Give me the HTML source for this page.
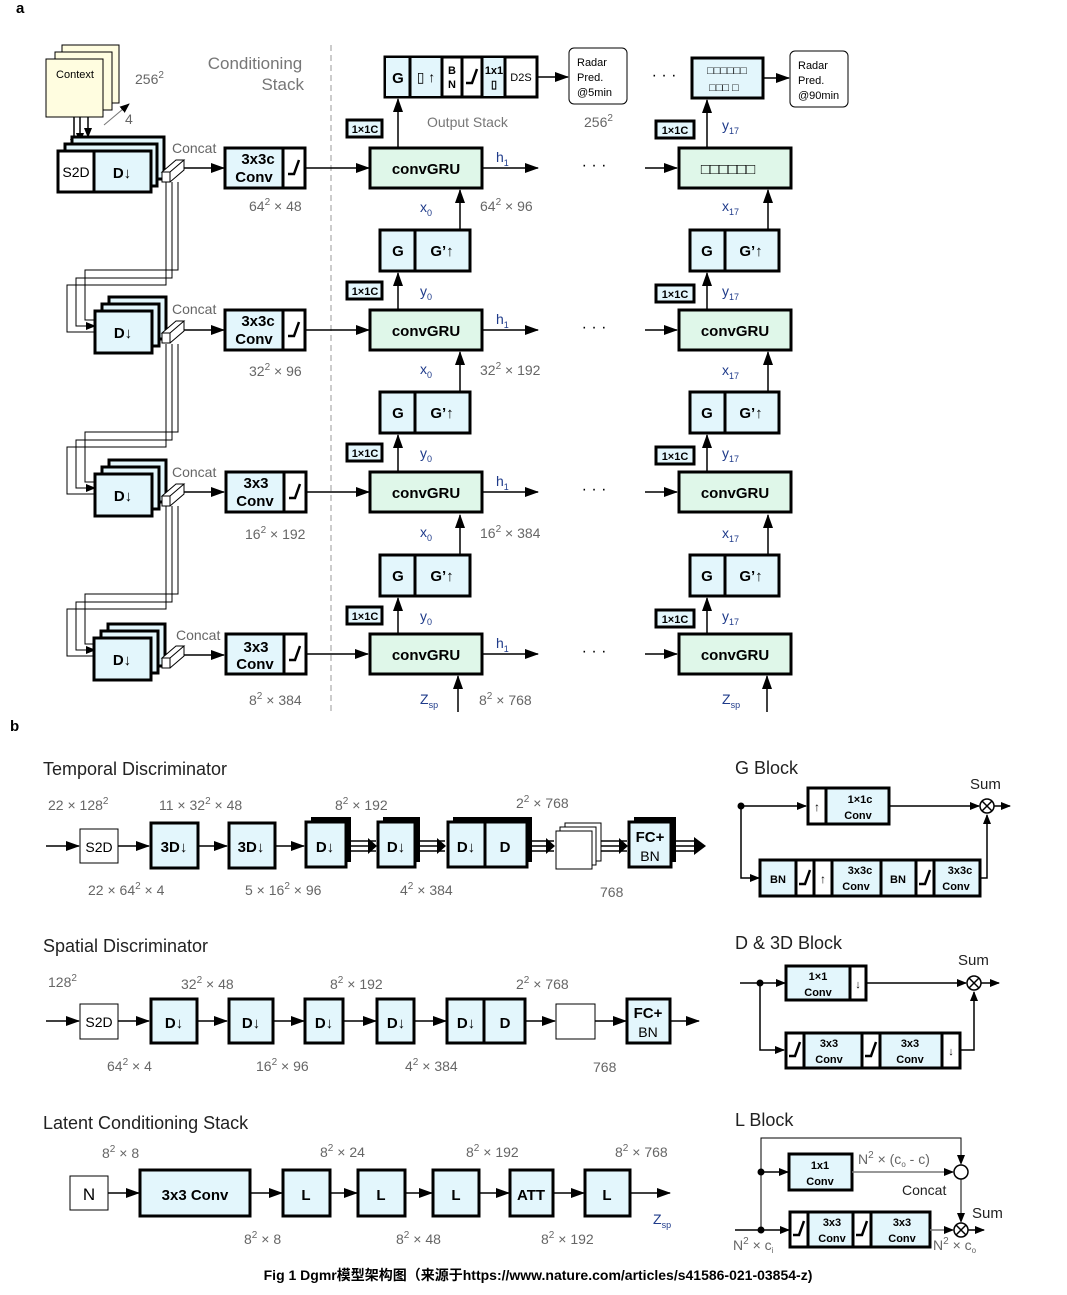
<!DOCTYPE html>
<html><head><meta charset="utf-8"><style>
body{margin:0;background:#fff}
svg{display:block;font-family:"Liberation Sans","Noto Sans CJK SC",sans-serif}
.b{fill:#e3f6fc;stroke:#000;stroke-width:3}
.w{fill:#fff;stroke:#000;stroke-width:3}
.g{fill:#dff7e9;stroke:#000;stroke-width:3}
.t{font-weight:bold;font-size:15px;text-anchor:middle}
.s{font-weight:bold;font-size:11px;text-anchor:middle}
.gr{fill:#666;font-size:14px}
.bl{fill:#1f3b8a;font-size:14px}
.ln{stroke:#000;stroke-width:1.5;fill:none}
.th{stroke:#000;stroke-width:1;fill:none}
.r{stroke:#000;stroke-width:2.5;fill:none}
.h{font-size:18px;fill:#222}
</style></head><body>
<svg width="1067" height="1295" viewBox="0 0 1067 1295">
<defs>
<marker id="a" markerWidth="10" markerHeight="8" refX="9" refY="4" orient="auto" markerUnits="userSpaceOnUse"><path d="M0,0L10,4L0,8z"/></marker>
<marker id="as" markerWidth="14" markerHeight="10" refX="13" refY="5" orient="auto" markerUnits="userSpaceOnUse"><path d="M0,0L14,5L0,10z"/></marker>
<g id="relu"><polyline points="-6,6 0,6 5,-8" class="r"/></g>
<g id="dstack"><rect x="14" y="-14" width="57" height="42" class="b"/><rect x="7" y="-7" width="57" height="42" class="b"/><rect x="0" y="0" width="57" height="42" class="b"/><text x="28" y="27" class="t" font-size="17">D↓</text></g>
<g id="bar"><path d="M0,8 L14,-4 L22,-4 L8,8z M0,8 v10 h8 v-10 M8,18 L22,6 V-4" fill="#fff" stroke="#000" stroke-width="1"/></g>
</defs>

<text x="16" y="13" font-weight="bold" font-size="15">a</text>
<text x="10" y="731" font-weight="bold" font-size="15">b</text>

<!-- context -->
<rect x="62" y="45" width="57" height="58" fill="#fffde0" stroke="#000"/>
<rect x="55" y="52" width="57" height="58" fill="#fffde0" stroke="#000"/>
<rect x="46" y="59" width="57" height="58" fill="#fffde0" stroke="#000"/>
<text x="75" y="78" font-size="11" text-anchor="middle">Context</text>
<text x="135" y="84" class="gr">256<tspan font-size="10" dy="-6">2</tspan></text>
<line x1="104" y1="125" x2="129" y2="104" stroke="#777" stroke-width="1" marker-end="url(#a)"/>
<text x="125" y="124" class="gr">4</text>
<line x1="74" y1="117" x2="74" y2="148" class="ln" marker-end="url(#a)"/>
<line x1="80" y1="117" x2="80" y2="142" class="ln" marker-end="url(#a)"/>
<line x1="88" y1="117" x2="88" y2="137" class="ln" marker-end="url(#a)"/>
<text x="255" y="69" fill="#777" font-size="17" text-anchor="middle">Conditioning</text>
<text x="304" y="90" fill="#777" font-size="17" text-anchor="end">Stack</text>
<line x1="331" y1="45" x2="331" y2="712" stroke="#999" stroke-width="1" stroke-dasharray="6,4"/>

<!-- row1 left -->
<rect x="72" y="137" width="92" height="42" class="b"/>
<rect x="65" y="144" width="92" height="42" class="b"/>
<rect x="58" y="151" width="36" height="41" class="w"/>
<rect x="94" y="151" width="57" height="41" class="b"/>
<text x="76" y="177" font-size="14" text-anchor="middle">S2D</text>
<text x="122" y="178" class="t" font-size="17">D↓</text>
<use href="#bar" x="162" y="164"/>
<text x="172" y="153" class="gr">Concat</text>
<!-- wires to row2 -->
<polyline points="166,182 166,285 67,285 67,332 95,332" class="th"/>
<polyline points="172,182 172,278 76,278 76,326 95,326" class="th" marker-end="url(#a)"/>
<polyline points="178,182 178,270 85,270 85,320 95,320" class="th"/>
<polyline points="166,344 166,447 67,447 67,494 95,494" class="th"/>
<polyline points="172,344 172,440 76,440 76,488 95,488" class="th" marker-end="url(#a)"/>
<polyline points="178,344 178,432 85,432 85,482 95,482" class="th"/>
<polyline points="166,506 166,609 67,609 67,656 95,656" class="th"/>
<polyline points="172,506 172,602 76,602 76,650 95,650" class="th" marker-end="url(#a)"/>
<polyline points="178,506 178,594 85,594 85,644 95,644" class="th"/>

<use href="#dstack" x="95" y="311"/><use href="#bar" x="162" y="325"/><text x="172" y="314" class="gr">Concat</text>
<use href="#dstack" x="95" y="474"/><use href="#bar" x="162" y="488"/><text x="172" y="477" class="gr">Concat</text>
<use href="#dstack" x="94" y="638"/><use href="#bar" x="162" y="650"/><text x="176" y="640" class="gr">Concat</text>

<!-- concat to conv arrows -->
<line x1="184" y1="168" x2="224" y2="168" class="ln" marker-end="url(#as)"/>
<line x1="184" y1="330" x2="224" y2="330" class="ln" marker-end="url(#as)"/>
<line x1="184" y1="492" x2="224" y2="492" class="ln" marker-end="url(#as)"/>
<line x1="184" y1="655" x2="224" y2="655" class="ln" marker-end="url(#as)"/>

<!-- conv boxes -->
<g><rect x="225" y="148" width="58" height="40" class="b"/><rect x="283" y="148" width="22" height="40" class="w"/><text x="258" y="164" class="t" font-size="13">3x3c</text><text x="254" y="182" class="t" font-size="13">Conv</text><use href="#relu" x="294" y="168"/><text x="249" y="211" class="gr">64<tspan font-size="10" dy="-6">2</tspan><tspan dy="6"> × 48</tspan></text></g>
<g><rect x="225" y="310" width="58" height="40" class="b"/><rect x="283" y="310" width="22" height="40" class="w"/><text x="258" y="326" class="t" font-size="13">3x3c</text><text x="254" y="344" class="t" font-size="13">Conv</text><use href="#relu" x="294" y="330"/><text x="249" y="376" class="gr">32<tspan font-size="10" dy="-6">2</tspan><tspan dy="6"> × 96</tspan></text></g>
<g><rect x="226" y="472" width="58" height="40" class="b"/><rect x="284" y="472" width="22" height="40" class="w"/><text x="256" y="488" class="t" font-size="13">3x3</text><text x="255" y="506" class="t" font-size="13">Conv</text><use href="#relu" x="295" y="492"/><text x="245" y="539" class="gr">16<tspan font-size="10" dy="-6">2</tspan><tspan dy="6"> × 192</tspan></text></g>
<g><rect x="226" y="634" width="58" height="40" class="b"/><rect x="284" y="634" width="22" height="40" class="w"/><text x="256" y="652" class="t" font-size="13">3x3</text><text x="255" y="669" class="t" font-size="13">Conv</text><use href="#relu" x="295" y="654"/><text x="249" y="705" class="gr">8<tspan font-size="10" dy="-6">2</tspan><tspan dy="6"> × 384</tspan></text></g>

<!-- conv to GRU -->
<line x1="305" y1="168" x2="369" y2="168" class="ln" marker-end="url(#as)"/>
<line x1="305" y1="330" x2="369" y2="330" class="ln" marker-end="url(#as)"/>
<line x1="306" y1="492" x2="369" y2="492" class="ln" marker-end="url(#as)"/>
<line x1="306" y1="654" x2="368" y2="654" class="ln" marker-end="url(#as)"/>

<!-- GRU rows -->
<g id="grurow">
<rect x="370" y="148" width="112" height="40" class="g"/><text x="426" y="174" class="t" font-size="16">convGRU</text>
<line x1="482" y1="168" x2="538" y2="168" class="ln" marker-end="url(#as)"/><text x="496" y="162" class="bl">h<tspan font-size="9" dy="4">1</tspan></text>
<text x="594" y="170" font-size="16" text-anchor="middle">· · ·</text>
<line x1="645" y1="168" x2="677" y2="168" class="ln" marker-end="url(#as)"/>
</g>
<rect x="679" y="148" width="112" height="40" class="g"/><text x="728" y="174" class="t" font-size="14">□□□□□□</text>
<use href="#grurow" y="162"/><rect x="679" y="310" width="112" height="40" class="g"/><text x="735" y="336" class="t" font-size="16">convGRU</text>
<use href="#grurow" y="324"/><rect x="679" y="472" width="112" height="40" class="g"/><text x="735" y="498" class="t" font-size="16">convGRU</text>
<use href="#grurow" y="486"/><rect x="679" y="634" width="112" height="40" class="g"/><text x="735" y="660" class="t" font-size="16">convGRU</text>

<!-- G blocks between -->
<g id="gb">
<rect x="380" y="230" width="35" height="41" class="b"/><rect x="415" y="230" width="55" height="41" class="b"/>
<text x="398" y="256" class="t" font-size="16">G</text><text x="442" y="256" class="t" font-size="16">G’↑</text>
<line x1="460" y1="230" x2="460" y2="190" class="ln" marker-end="url(#as)"/>
<line x1="398" y1="310" x2="398" y2="273" class="ln" marker-end="url(#as)"/>
<rect x="347" y="282" width="35" height="17" class="b"/><text x="365" y="295" class="s" font-size="10">1×1C</text>
<rect x="690" y="230" width="35" height="41" class="b"/><rect x="725" y="230" width="54" height="41" class="b"/>
<text x="707" y="256" class="t" font-size="16">G</text><text x="751" y="256" class="t" font-size="16">G’↑</text>
<line x1="768" y1="230" x2="768" y2="190" class="ln" marker-end="url(#as)"/>
<line x1="707" y1="310" x2="707" y2="273" class="ln" marker-end="url(#as)"/>
<rect x="656" y="285" width="38" height="17" class="b"/><text x="675" y="298" class="s" font-size="10">1×1C</text>
</g>
<use href="#gb" y="162"/><use href="#gb" y="325"/>
<text x="420" y="212" class="bl">x<tspan font-size="9" dy="4">0</tspan></text><text x="480" y="211" class="gr">64<tspan font-size="10" dy="-6">2</tspan><tspan dy="6"> × 96</tspan></text>
<text x="420" y="296" class="bl">y<tspan font-size="9" dy="4">0</tspan></text>
<text x="722" y="211" class="bl">x<tspan font-size="9" dy="4">17</tspan></text><text x="722" y="296" class="bl">y<tspan font-size="9" dy="4">17</tspan></text>
<text x="420" y="374" class="bl">x<tspan font-size="9" dy="4">0</tspan></text><text x="480" y="375" class="gr">32<tspan font-size="10" dy="-6">2</tspan><tspan dy="6"> × 192</tspan></text>
<text x="420" y="458" class="bl">y<tspan font-size="9" dy="4">0</tspan></text>
<text x="722" y="375" class="bl">x<tspan font-size="9" dy="4">17</tspan></text><text x="722" y="458" class="bl">y<tspan font-size="9" dy="4">17</tspan></text>
<text x="420" y="537" class="bl">x<tspan font-size="9" dy="4">0</tspan></text><text x="480" y="538" class="gr">16<tspan font-size="10" dy="-6">2</tspan><tspan dy="6"> × 384</tspan></text>
<text x="420" y="621" class="bl">y<tspan font-size="9" dy="4">0</tspan></text>
<text x="722" y="538" class="bl">x<tspan font-size="9" dy="4">17</tspan></text><text x="722" y="621" class="bl">y<tspan font-size="9" dy="4">17</tspan></text>
<!-- bottom inputs -->
<line x1="458" y1="712" x2="458" y2="676" class="ln" marker-end="url(#as)"/>
<line x1="767" y1="712" x2="767" y2="676" class="ln" marker-end="url(#as)"/>
<text x="420" y="704" class="bl">Z<tspan font-size="9" dy="4">sp</tspan></text><text x="722" y="704" class="bl">Z<tspan font-size="9" dy="4">sp</tspan></text>
<text x="479" y="705" class="gr">8<tspan font-size="10" dy="-6">2</tspan><tspan dy="6"> × 768</tspan></text>

<!-- top output stack -->
<line x1="398" y1="148" x2="398" y2="99" class="ln" marker-end="url(#as)"/>
<rect x="347" y="120" width="35" height="17" class="b"/><text x="365" y="133" class="s" font-size="10">1×1C</text>
<rect x="385" y="57" width="152" height="40" class="w"/>
<rect x="386" y="58" width="24" height="38" fill="#e3f6fc"/><rect x="411" y="58" width="31" height="38" fill="#e3f6fc"/><rect x="482" y="58" width="23" height="38" fill="#e3f6fc"/>
<path d="M410,57v40M442,57v40M462,57v40M482,57v40M505,57v40" stroke="#000" stroke-width="3"/>
<text x="398" y="83" class="t" font-size="16">G</text><text x="426" y="82" font-size="14" text-anchor="middle">▯ ↑</text>
<text x="452" y="74" class="s" font-size="9">B</text><text x="452" y="88" class="s" font-size="9">N</text>
<use href="#relu" x="472" y="77"/>
<text x="494" y="74" class="s" font-size="10">1x1</text><text x="494" y="88" class="s" font-size="9">▯</text>
<text x="521" y="81" font-size="11" text-anchor="middle">D2S</text>
<line x1="537" y1="77" x2="568" y2="77" class="ln" marker-end="url(#as)"/>
<rect x="569" y="48" width="58" height="56" rx="5" fill="#fff" stroke="#000"/>
<text x="577" y="66" font-size="11">Radar</text><text x="577" y="81" font-size="11">Pred.</text><text x="577" y="96" font-size="11">@5min</text>
<text x="427" y="127" fill="#777" font-size="14">Output Stack</text>
<text x="584" y="127" class="gr">256<tspan font-size="10" dy="-6">2</tspan></text>
<text x="664" y="80" font-size="16" text-anchor="middle">· · ·</text>
<rect x="692" y="58" width="71" height="40" class="b"/><text x="727" y="74" class="s" font-size="11">□□□□□□</text><text x="724" y="91" class="s" font-size="11">□□□ □</text>
<line x1="763" y1="78" x2="789" y2="78" class="ln" marker-end="url(#as)"/>
<rect x="790" y="51" width="58" height="56" rx="5" fill="#fff" stroke="#000"/>
<text x="798" y="69" font-size="11">Radar</text><text x="798" y="84" font-size="11">Pred.</text><text x="798" y="99" font-size="11">@90min</text>
<line x1="707" y1="148" x2="707" y2="100" class="ln" marker-end="url(#as)"/>
<rect x="656" y="121" width="38" height="17" class="b"/><text x="675" y="134" class="s" font-size="10">1×1C</text>
<text x="722" y="130" class="bl">y<tspan font-size="9" dy="4">17</tspan></text>

<!-- ===== b: Temporal ===== -->
<text x="43" y="775" class="h">Temporal Discriminator</text>
<text x="48" y="810" class="gr">22 × 128<tspan font-size="10" dy="-6">2</tspan></text>
<text x="159" y="810" class="gr">11 × 32<tspan font-size="10" dy="-6">2</tspan><tspan dy="6"> × 48</tspan></text>
<text x="335" y="810" class="gr">8<tspan font-size="10" dy="-6">2</tspan><tspan dy="6"> × 192</tspan></text>
<text x="516" y="808" class="gr">2<tspan font-size="10" dy="-6">2</tspan><tspan dy="6"> × 768</tspan></text>
<text x="88" y="895" class="gr">22 × 64<tspan font-size="10" dy="-6">2</tspan><tspan dy="6"> × 4</tspan></text>
<text x="245" y="895" class="gr">5 × 16<tspan font-size="10" dy="-6">2</tspan><tspan dy="6"> × 96</tspan></text>
<text x="400" y="895" class="gr">4<tspan font-size="10" dy="-6">2</tspan><tspan dy="6"> × 384</tspan></text>
<text x="600" y="897" class="gr">768</text>
<line x1="46" y1="846" x2="79" y2="846" class="ln" marker-end="url(#as)"/>
<rect x="80" y="829" width="38" height="34" fill="#fff" stroke="#000"/><text x="99" y="852" font-size="14" text-anchor="middle">S2D</text>
<line x1="118" y1="846" x2="149" y2="846" class="ln" marker-end="url(#as)"/>
<rect x="151" y="823" width="47" height="45" class="b"/><text x="174" y="852" class="t" font-size="17">3D↓</text>
<line x1="198" y1="846" x2="227" y2="846" class="ln" marker-end="url(#as)"/>
<rect x="229" y="823" width="46" height="45" class="b"/><text x="251" y="852" class="t" font-size="17">3D↓</text>
<line x1="275" y1="846" x2="304" y2="846" class="ln" marker-end="url(#as)"/>
<rect x="311" y="817" width="40" height="45" fill="#000"/><rect x="306" y="822" width="40" height="45" class="b"/><text x="325" y="852" class="t" font-size="17">D↓</text>
<path d="M351,841h25M351,846h25M351,851h25" class="ln"/><path d="M368,838l9,8l-9,8z"/>
<rect x="383" y="817" width="37" height="45" fill="#000"/><rect x="378" y="822" width="37" height="45" class="b"/><text x="396" y="852" class="t" font-size="17">D↓</text>
<path d="M420,841h25M420,846h25M420,851h25" class="ln"/><path d="M437,838l9,8l-9,8z"/>
<rect x="453" y="817" width="79" height="45" fill="#000"/><rect x="448" y="822" width="79" height="45" class="b"/><line x1="485" y1="822" x2="485" y2="867" stroke="#000" stroke-width="3"/>
<text x="466" y="852" class="t" font-size="17">D↓</text><text x="505" y="852" class="t" font-size="17">D</text>
<path d="M532,841h22M532,846h22M532,851h22" class="ln"/><path d="M546,838l9,8l-9,8z"/>
<rect x="565" y="823" width="36" height="38" fill="#fff" stroke="#000"/><rect x="560" y="827" width="36" height="38" fill="#fff" stroke="#000"/><rect x="556" y="831" width="36" height="38" fill="#fff" stroke="#000"/>
<path d="M601,841h26M601,846h26M601,851h26" class="ln"/><path d="M619,838l9,8l-9,8z"/>
<rect x="634" y="817" width="42" height="45" fill="#000"/><rect x="629" y="822" width="42" height="45" class="b"/>
<text x="650" y="842" class="t" font-size="14">FC+</text><text x="650" y="861" font-size="14" text-anchor="middle">BN</text>
<path d="M676,841h22M676,846h22M676,851h22" class="ln"/><path d="M694,837l12,9l-12,9z"/>

<!-- Spatial -->
<text x="43" y="952" class="h">Spatial Discriminator</text>
<text x="48" y="987" class="gr">128<tspan font-size="10" dy="-6">2</tspan></text>
<text x="181" y="989" class="gr">32<tspan font-size="10" dy="-6">2</tspan><tspan dy="6"> × 48</tspan></text>
<text x="330" y="989" class="gr">8<tspan font-size="10" dy="-6">2</tspan><tspan dy="6"> × 192</tspan></text>
<text x="516" y="989" class="gr">2<tspan font-size="10" dy="-6">2</tspan><tspan dy="6"> × 768</tspan></text>
<text x="107" y="1071" class="gr">64<tspan font-size="10" dy="-6">2</tspan><tspan dy="6"> × 4</tspan></text>
<text x="256" y="1071" class="gr">16<tspan font-size="10" dy="-6">2</tspan><tspan dy="6"> × 96</tspan></text>
<text x="405" y="1071" class="gr">4<tspan font-size="10" dy="-6">2</tspan><tspan dy="6"> × 384</tspan></text>
<text x="593" y="1072" class="gr">768</text>
<line x1="46" y1="1021" x2="79" y2="1021" class="ln" marker-end="url(#as)"/>
<rect x="80" y="1004" width="38" height="35" fill="#fff" stroke="#000"/><text x="99" y="1027" font-size="14" text-anchor="middle">S2D</text>
<line x1="118" y1="1021" x2="149" y2="1021" class="ln" marker-end="url(#as)"/>
<rect x="151" y="999" width="46" height="44" class="b"/><text x="174" y="1028" class="t" font-size="17">D↓</text>
<line x1="197" y1="1021" x2="227" y2="1021" class="ln" marker-end="url(#as)"/>
<rect x="229" y="999" width="44" height="44" class="b"/><text x="251" y="1028" class="t" font-size="17">D↓</text>
<line x1="273" y1="1021" x2="304" y2="1021" class="ln" marker-end="url(#as)"/>
<rect x="305" y="999" width="38" height="44" class="b"/><text x="324" y="1028" class="t" font-size="17">D↓</text>
<line x1="343" y1="1021" x2="376" y2="1021" class="ln" marker-end="url(#as)"/>
<rect x="377" y="999" width="37" height="44" class="b"/><text x="396" y="1028" class="t" font-size="17">D↓</text>
<line x1="414" y1="1021" x2="446" y2="1021" class="ln" marker-end="url(#as)"/>
<rect x="447" y="999" width="78" height="44" class="b"/><line x1="484" y1="999" x2="484" y2="1043" stroke="#000" stroke-width="3"/>
<text x="466" y="1028" class="t" font-size="17">D↓</text><text x="505" y="1028" class="t" font-size="17">D</text>
<line x1="525" y1="1021" x2="555" y2="1021" class="ln" marker-end="url(#as)"/>
<rect x="556" y="1004" width="39" height="35" fill="#fff" stroke="#000"/>
<line x1="595" y1="1021" x2="626" y2="1021" class="ln" marker-end="url(#as)"/>
<rect x="627" y="999" width="43" height="44" class="b"/>
<text x="648" y="1018" class="t" font-size="14">FC+</text><text x="648" y="1037" font-size="14" text-anchor="middle">BN</text>
<line x1="670" y1="1021" x2="699" y2="1021" class="ln" marker-end="url(#as)"/>

<!-- Latent -->
<text x="43" y="1129" class="h">Latent Conditioning Stack</text>
<text x="102" y="1158" class="gr">8<tspan font-size="10" dy="-6">2</tspan><tspan dy="6"> × 8</tspan></text>
<text x="320" y="1157" class="gr">8<tspan font-size="10" dy="-6">2</tspan><tspan dy="6"> × 24</tspan></text>
<text x="466" y="1157" class="gr">8<tspan font-size="10" dy="-6">2</tspan><tspan dy="6"> × 192</tspan></text>
<text x="615" y="1157" class="gr">8<tspan font-size="10" dy="-6">2</tspan><tspan dy="6"> × 768</tspan></text>
<text x="244" y="1244" class="gr">8<tspan font-size="10" dy="-6">2</tspan><tspan dy="6"> × 8</tspan></text>
<text x="396" y="1244" class="gr">8<tspan font-size="10" dy="-6">2</tspan><tspan dy="6"> × 48</tspan></text>
<text x="541" y="1244" class="gr">8<tspan font-size="10" dy="-6">2</tspan><tspan dy="6"> × 192</tspan></text>
<rect x="70" y="1176" width="38" height="34" fill="#fff" stroke="#000"/><text x="89" y="1200" font-size="17" text-anchor="middle">N</text>
<line x1="108" y1="1193" x2="139" y2="1193" class="ln" marker-end="url(#as)"/>
<rect x="140" y="1170" width="110" height="46" class="b"/><text x="195" y="1200" class="t" font-size="18">3x3 Conv</text>
<line x1="250" y1="1193" x2="282" y2="1193" class="ln" marker-end="url(#as)"/>
<rect x="283" y="1170" width="47" height="46" class="b"/><text x="306" y="1200" class="t" font-size="17">L</text>
<line x1="330" y1="1193" x2="357" y2="1193" class="ln" marker-end="url(#as)"/>
<rect x="358" y="1170" width="47" height="46" class="b"/><text x="381" y="1200" class="t" font-size="17">L</text>
<line x1="405" y1="1193" x2="432" y2="1193" class="ln" marker-end="url(#as)"/>
<rect x="433" y="1170" width="46" height="46" class="b"/><text x="456" y="1200" class="t" font-size="17">L</text>
<line x1="479" y1="1193" x2="509" y2="1193" class="ln" marker-end="url(#as)"/>
<rect x="510" y="1170" width="43" height="46" class="b"/><text x="531" y="1200" class="t" font-size="17">ATT</text>
<line x1="553" y1="1193" x2="584" y2="1193" class="ln" marker-end="url(#as)"/>
<rect x="585" y="1170" width="45" height="46" class="b"/><text x="607" y="1200" class="t" font-size="17">L</text>
<line x1="630" y1="1193" x2="670" y2="1193" class="ln" marker-end="url(#as)"/>
<text x="653" y="1224" class="bl" font-size="15">Z<tspan font-size="9" dy="4">sp</tspan></text>

<!-- G Block -->
<text x="735" y="774" class="h">G Block</text>
<text x="970" y="789" font-size="15" fill="#222">Sum</text>
<circle cx="741" cy="806" r="3.5"/>
<line x1="741" y1="806" x2="806" y2="806" class="ln" marker-end="url(#a)"/>
<polyline points="741,806 741,878 759,878" class="ln" marker-end="url(#a)"/>
<rect x="808" y="788" width="81" height="36" class="b"/><rect x="808" y="788" width="18" height="36" class="w"/>
<text x="817" y="811" font-size="12" text-anchor="middle">↑</text><text x="860" y="803" class="s">1×1c</text><text x="858" y="819" class="s">Conv</text>
<line x1="889" y1="806" x2="979" y2="806" class="ln" marker-end="url(#a)"/>
<circle cx="987" cy="806" r="7" fill="#fff" stroke="#000" stroke-width="1.5"/><path d="M982,801l10,10M992,801l-10,10" stroke="#000" stroke-width="1.5"/>
<line x1="994" y1="806" x2="1010" y2="806" class="ln" marker-end="url(#a)"/>
<polyline points="980,878 987,878 987,815" class="ln" marker-end="url(#a)"/>
<rect x="760" y="860" width="220" height="36" class="b"/>
<rect x="796" y="860" width="18" height="36" class="w"/><rect x="814" y="860" width="18" height="36" class="w"/><rect x="916" y="860" width="18" height="36" class="w"/>
<path d="M832,860v36M881,860v36M916,860v36" stroke="#000" stroke-width="3"/>
<text x="778" y="883" class="s" font-size="12">BN</text><use href="#relu" x="805" y="878" transform="scale(1)"/><text x="823" y="883" font-size="12" text-anchor="middle">↑</text>
<text x="860" y="874" class="s">3x3c</text><text x="856" y="890" class="s">Conv</text>
<text x="898" y="883" class="s" font-size="12">BN</text><use href="#relu" x="925" y="878"/>
<text x="960" y="874" class="s">3x3c</text><text x="956" y="890" class="s">Conv</text>

<!-- D Block -->
<text x="735" y="949" class="h">D &amp; 3D Block</text>
<text x="958" y="965" font-size="15" fill="#222">Sum</text>
<line x1="740" y1="983" x2="785" y2="983" class="ln" marker-end="url(#a)"/>
<circle cx="760" cy="983" r="3.5"/>
<polyline points="760,983 760,1050 784,1050" class="ln" marker-end="url(#a)"/>
<rect x="786" y="966" width="80" height="34" class="b"/><rect x="850" y="966" width="16" height="34" class="w"/>
<text x="818" y="980" class="s">1×1</text><text x="818" y="996" class="s">Conv</text><text x="858" y="988" font-size="11" text-anchor="middle">↓</text>
<line x1="866" y1="983" x2="966" y2="983" class="ln" marker-end="url(#a)"/>
<circle cx="974" cy="983" r="7" fill="#fff" stroke="#000" stroke-width="1.5"/><path d="M969,978l10,10M979,978l-10,10" stroke="#000" stroke-width="1.5"/>
<line x1="981" y1="983" x2="999" y2="983" class="ln" marker-end="url(#a)"/>
<polyline points="960,1050 974,1050 974,992" class="ln" marker-end="url(#a)"/>
<rect x="786" y="1033" width="174" height="35" class="b"/>
<rect x="786" y="1033" width="18" height="35" class="w"/><rect x="862" y="1033" width="18" height="35" class="w"/><rect x="942" y="1033" width="18" height="35" class="w"/>
<use href="#relu" x="795" y="1050"/><use href="#relu" x="871" y="1050"/><text x="951" y="1055" font-size="11" text-anchor="middle">↓</text>
<text x="829" y="1047" class="s">3x3</text><text x="829" y="1063" class="s">Conv</text>
<text x="910" y="1047" class="s">3x3</text><text x="910" y="1063" class="s">Conv</text>

<!-- L Block -->
<text x="735" y="1126" class="h">L Block</text>
<polyline points="761,1230 761,1138 961,1138 961,1164" class="th" marker-end="url(#a)"/>
<circle cx="761" cy="1172" r="3.5"/><circle cx="761" cy="1230" r="3.5"/>
<line x1="761" y1="1172" x2="788" y2="1172" class="ln" marker-end="url(#a)"/>
<rect x="789" y="1154" width="63" height="36" class="b"/><text x="820" y="1169" class="s">1x1</text><text x="820" y="1185" class="s">Conv</text>
<line x1="852" y1="1172" x2="953" y2="1172" stroke="#777" stroke-width="1.5" marker-end="url(#a)"/>
<circle cx="961" cy="1172" r="7" fill="#fff" stroke="#000" stroke-width="1.5"/>
<text x="858" y="1164" class="gr">N<tspan font-size="10" dy="-6">2</tspan><tspan dy="6"> × (c</tspan><tspan font-size="8" dy="3">o</tspan><tspan dy="-3"> - c)</tspan></text>
<text x="902" y="1195" font-size="14" fill="#222">Concat</text>
<line x1="961" y1="1179" x2="961" y2="1222" class="th" marker-end="url(#a)"/>
<text x="972" y="1218" font-size="15" fill="#222">Sum</text>
<line x1="735" y1="1230" x2="789" y2="1230" class="ln" marker-end="url(#a)"/>
<rect x="790" y="1212" width="140" height="35" class="b"/>
<rect x="790" y="1212" width="18" height="35" class="w"/><rect x="853" y="1212" width="18" height="35" class="w"/>
<use href="#relu" x="799" y="1229"/><use href="#relu" x="862" y="1229"/>
<text x="832" y="1226" class="s">3x3</text><text x="832" y="1242" class="s">Conv</text>
<text x="902" y="1226" class="s">3x3</text><text x="902" y="1242" class="s">Conv</text>
<line x1="930" y1="1230" x2="953" y2="1230" stroke="#777" stroke-width="1.5" marker-end="url(#a)"/>
<circle cx="961" cy="1230" r="7" fill="#fff" stroke="#000" stroke-width="1.5"/><path d="M956,1225l10,10M966,1225l-10,10" stroke="#000" stroke-width="1.5"/>
<line x1="968" y1="1230" x2="984" y2="1230" class="ln" marker-end="url(#a)"/>
<text x="733" y="1250" class="gr">N<tspan font-size="10" dy="-6">2</tspan><tspan dy="6"> × c</tspan><tspan font-size="8" dy="3">i</tspan></text>
<text x="933" y="1250" class="gr">N<tspan font-size="10" dy="-6">2</tspan><tspan dy="6"> × c</tspan><tspan font-size="8" dy="3">o</tspan></text>

<text x="538" y="1280" font-size="14" font-weight="bold" text-anchor="middle">Fig 1 Dgmr模型架构图（来源于https://www.nature.com/articles/s41586-021-03854-z)</text>
</svg>
</body></html>
